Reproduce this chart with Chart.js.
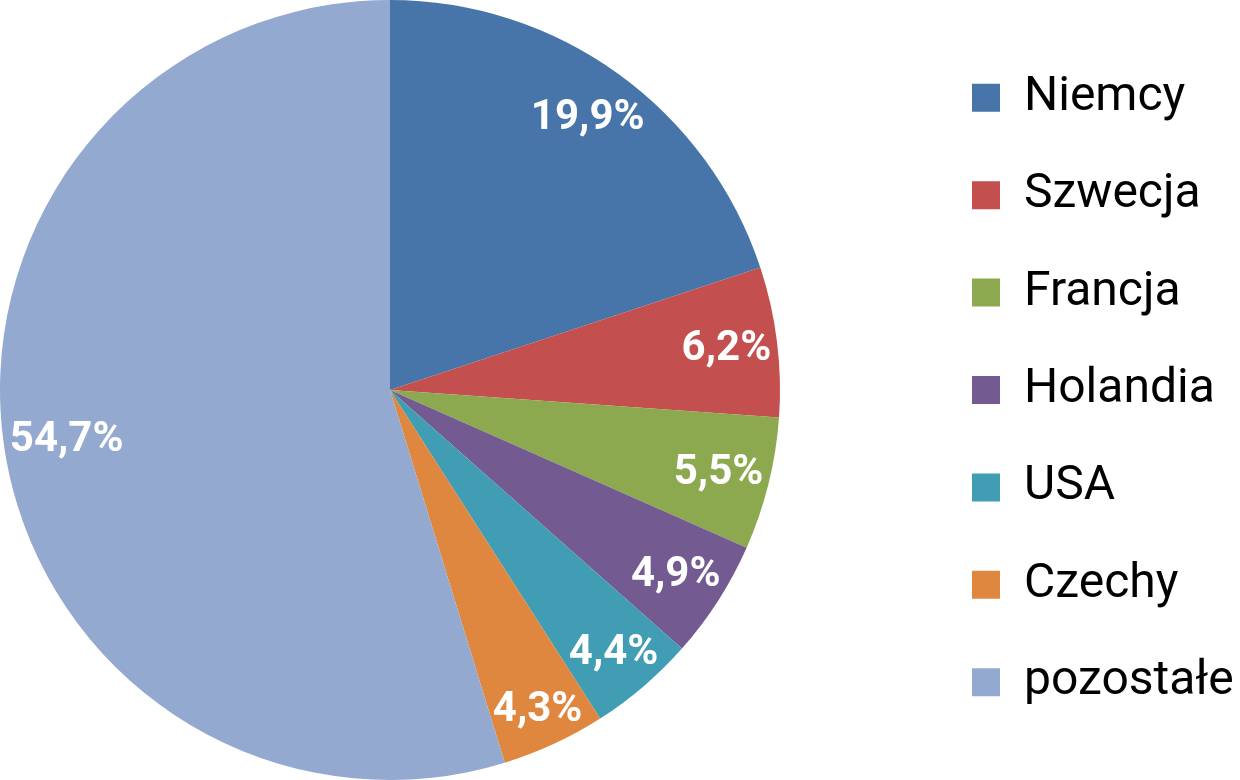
<!DOCTYPE html>
<html>
<head>
<meta charset="utf-8">
<script src="https://cdn.jsdelivr.net/npm/chart.js@4"></script>
<style>
  html, body { margin: 0; padding: 0; background: #ffffff; }
  #wrap { position: relative; width: 1240px; height: 780px; }
</style>
</head>
<body>
<div id="wrap"><canvas id="c" width="1240" height="780"></canvas></div>
<script>
const categories = ["Niemcy", "Szwecja", "Francja", "Holandia", "USA", "Czechy", "pozostałe"];
const shares = [19.9, 6.2, 5.5, 4.9, 4.4, 4.3, 54.7];
const valueLabels = ["19,9%", "6,2%", "5,5%", "4,9%", "4,4%", "4,3%", "54,7%"];
const colors = ["#4774A9", "#C34F4E", "#8CA94F", "#735A91", "#409DB3", "#DF873F", "#94A9D0"];

const legendPad = 49.4;

const layoutFix = {
  id: 'layoutFix',
  afterLayout(chart) {
    const lg = chart.legend;
    const w = lg.width;
    lg.left = 972 - legendPad;
    lg.right = lg.left + w;
    chart.chartArea = { left: 0, top: 0, right: 780, bottom: 780, width: 780, height: 780 };
  }
};

const sliceLabels = {
  id: 'sliceLabels',
  afterDatasetsDraw(chart) {
    const ctx = chart.ctx;
    const meta = chart.getDatasetMeta(0);
    ctx.save();
    ctx.font = 'bold 42px Roboto';
    ctx.fillStyle = '#ffffff';
    ctx.textAlign = 'center';
    ctx.textBaseline = 'middle';
    const margin = 4;
    meta.data.forEach((arc, i) => {
      const p = arc.getProps(['x', 'y', 'startAngle', 'endAngle', 'outerRadius'], true);
      const mid = (p.startAngle + p.endAngle) / 2;
      const ux = Math.cos(mid), uy = Math.sin(mid);
      const text = valueLabels[i];
      const w = ctx.measureText(text).width;
      const h = 32;
      const lim = p.outerRadius - margin;
      let d = lim;
      for (; d > 0; d -= 0.5) {
        const cx = d * ux, cy = d * uy;
        let ok = true;
        for (const sx of [-1, 1]) for (const sy of [-1, 1]) {
          const qx = cx + sx * w / 2, qy = cy + sy * h / 2;
          if (Math.hypot(qx, qy) > lim) ok = false;
        }
        if (ok) break;
      }
      ctx.fillText(text, p.x + d * ux, p.y + d * uy + 2);
    });
    ctx.restore();
  }
};

new Chart(document.getElementById('c'), {
  type: 'pie',
  data: {
    labels: categories,
    datasets: [{
      data: shares,
      backgroundColor: colors,
      borderWidth: 0,
      hoverOffset: 0
    }]
  },
  options: {
    responsive: false,
    animation: false,
    layout: { padding: 0 },
    plugins: {
      tooltip: { enabled: false },
      legend: {
        position: 'right',
        align: 'center',
        labels: {
          boxWidth: 28,
          boxHeight: 28,
          padding: legendPad,
          color: '#000000',
          font: { family: 'Roboto', size: 48 }
        }
      }
    }
  },
  plugins: [layoutFix, sliceLabels]
});
</script>
</body>
</html>
